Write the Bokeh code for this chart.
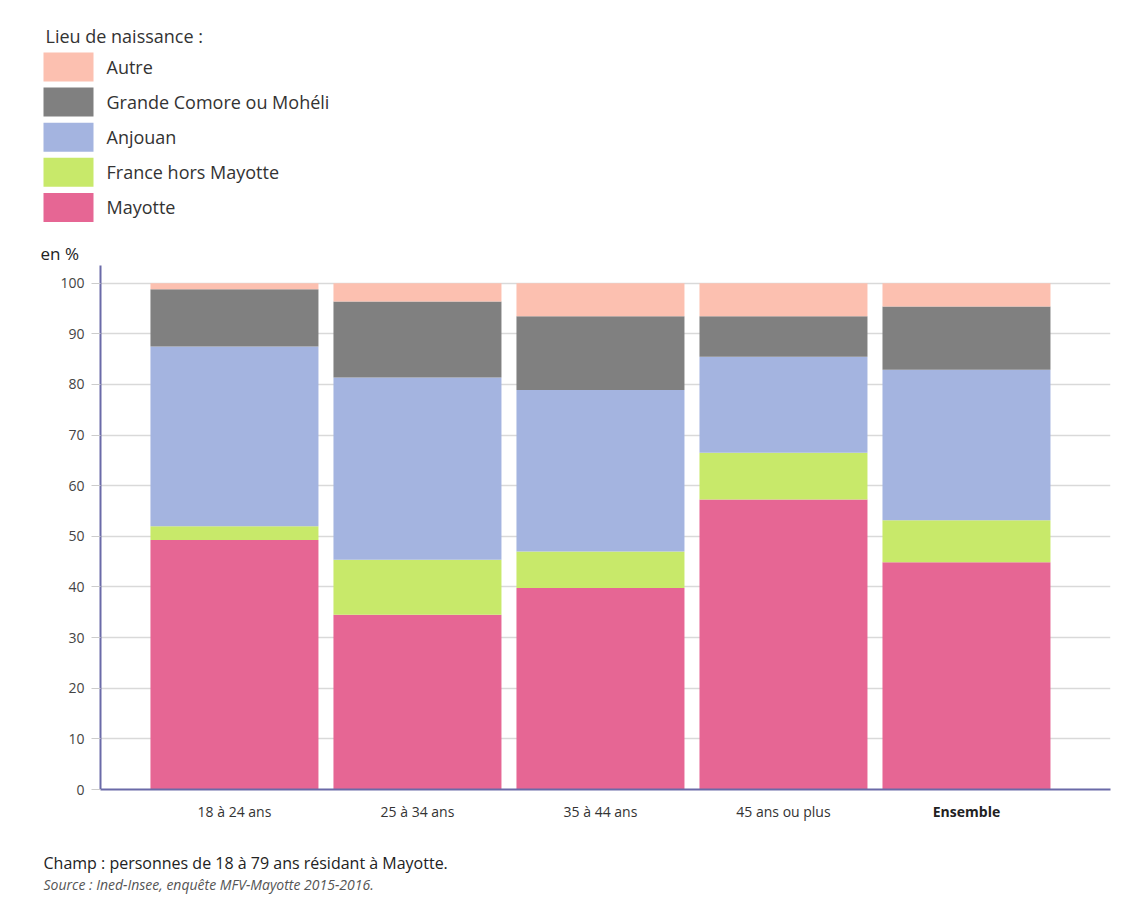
from bokeh.plotting import figure
from bokeh.models import ColumnDataSource, Range1d, FixedTicker, Label
from bokeh.layouts import column
from bokeh.core.properties import value
from bokeh.embed import file_html
from bokeh.resources import INLINE

categories = ["18 à 24 ans", "25 à 34 ans", "35 à 44 ans", "45 ans ou plus", "Ensemble"]
mayotte = [49.3, 34.5, 39.8, 57.3, 44.9]
france_hors_mayotte = [2.7, 10.9, 7.2, 9.2, 8.3]
anjouan = [35.5, 36.0, 31.9, 19.0, 29.7]
grande_comore = [11.3, 15.0, 14.6, 8.0, 12.5]
autre = [1.2, 3.6, 6.5, 6.5, 4.6]
series_names = ["Mayotte", "France hors Mayotte", "Anjouan", "Grande Comore ou Mohéli", "Autre"]
series_keys = ["mayotte", "france", "anjouan", "gc", "autre"]
colors = ["#e66694", "#c8e96a", "#a4b4e0", "#808080", "#fcc0b0"]
y_ticks = [0, 10, 20, 30, 40, 50, 60, 70, 80, 90, 100]
legend_title = "Lieu de naissance :"
y_unit_label = "en %"
note_champ = "Champ : personnes de 18 à 79 ans résidant à Mayotte."
note_source = "Source : Ined-Insee, enquête MFV-Mayotte 2015-2016."

FONT = "Open Sans"
W = 1140
TOP_H = 265
FRAME_H = 524
AXIS_H = 12
MAIN_H = FRAME_H + AXIS_H
BOT_H = 105
BL, BR = 100, 30
X0, X1 = -0.732, 4.787
PPU = (W - BL - BR) / (X1 - X0)
Y_END = 103.5


def bare(height, x_range, y_range):
    f = figure(width=W, height=height, output_backend="svg", toolbar_location=None,
               x_range=x_range, y_range=y_range, x_axis_type=None, y_axis_type=None,
               min_border=0, frame_align=False)
    f.outline_line_color = None
    f.xgrid.grid_line_color = None
    f.ygrid.grid_line_color = None
    return f


# ---------------- legend (top) ----------------
top = bare(TOP_H, Range1d(0, W), Range1d(TOP_H, 0))
leg_names = series_names[::-1]
leg_colors = colors[::-1]
leg_rank = list(range(len(leg_names)))
leg_src = ColumnDataSource(dict(
    name=leg_names, color=leg_colors,
    y=[66.5 + 35.1 * i for i in leg_rank],
))
top.rect(x=68, y="y", width=50, height=29, fill_color="color", line_color=None,
         source=leg_src)
top.text(x=106, y="y", text="name", source=leg_src, text_font=value(FONT),
         text_font_size="18px", text_color="#333333", text_baseline="middle")
top.add_layout(Label(x=45, y=TOP_H - 35, x_units="screen", y_units="screen",
                     text=legend_title, text_font=FONT, text_font_size="18px",
                     text_color="#333333", text_baseline="middle"))
top.add_layout(Label(x=40, y=TOP_H - 253, x_units="screen", y_units="screen",
                     text=y_unit_label, text_font=FONT, text_font_size="17px",
                     text_color="#222222", text_baseline="middle"))

# ---------------- main chart ----------------
xs = list(range(len(categories)))
source = ColumnDataSource(dict(
    x=xs, mayotte=mayotte, france=france_hors_mayotte, anjouan=anjouan,
    gc=grande_comore, autre=autre,
))
p = figure(width=W, height=MAIN_H, output_backend="svg", toolbar_location=None,
           x_range=Range1d(X0, X1), y_range=Range1d(0, Y_END),
           min_border_left=BL, min_border_right=BR, min_border_top=0,
           min_border_bottom=AXIS_H, frame_align=False)
p.outline_line_color = None
p.vbar_stack(series_keys, x="x", width=0.918, color=colors, source=source,
             line_color=None)

p.yaxis.ticker = FixedTicker(ticks=y_ticks)
p.yaxis.axis_line_color = "#6a6aa8"
p.yaxis.axis_line_width = 2
p.yaxis.major_tick_line_color = "#cccccc"
p.yaxis.major_tick_out = 9
p.yaxis.major_tick_in = 0
p.yaxis.minor_tick_line_color = None
p.yaxis.major_label_text_font = FONT
p.yaxis.major_label_text_font_size = "14px"
p.yaxis.major_label_text_color = "#444444"
p.yaxis.major_label_standoff = 7

p.xaxis.ticker = FixedTicker(ticks=xs)
p.xaxis.major_label_overrides = {i: "" for i in xs}
p.xaxis.major_label_text_font_size = "0px"
p.xaxis.axis_line_color = "#6a6aa8"
p.xaxis.axis_line_width = 2
p.xaxis.major_tick_line_color = None
p.xaxis.minor_tick_line_color = None
p.xaxis.major_tick_out = 0
p.xaxis.major_tick_in = 0
p.xaxis.major_label_standoff = 0

p.xgrid.grid_line_color = None
p.ygrid.ticker = FixedTicker(ticks=y_ticks)
p.ygrid.grid_line_color = "#d9d9d9"
p.ygrid.grid_line_width = 1.5

# ---------------- bottom: category labels and notes ----------------
bot = bare(BOT_H, Range1d(X0 - BL / PPU, X1 + BR / PPU), Range1d(BOT_H, 0))
lab_y = 10
normal = ColumnDataSource(dict(x=xs[:-1], t=categories[:-1]))
bold = ColumnDataSource(dict(x=xs[-1:], t=categories[-1:]))
bot.text(x="x", y=lab_y, text="t", source=normal, text_font=value(FONT),
         text_font_size="14px", text_color="#333333", text_align="center",
         text_baseline="middle")
bot.text(x="x", y=lab_y, text="t", source=bold, text_font=value(FONT),
         text_font_size="14px", text_font_style="bold", text_color="#222222",
         text_align="center", text_baseline="middle")
bot.add_layout(Label(x=43, y=BOT_H - 61, x_units="screen", y_units="screen",
                     text=note_champ, text_font=FONT, text_font_size="16px",
                     text_color="#222222", text_baseline="middle"))
bot.add_layout(Label(x=43, y=BOT_H - 83, x_units="screen", y_units="screen",
                     text=note_source, text_font=FONT, text_font_size="14px",
                     text_font_style="italic", text_color="#555555",
                     text_baseline="middle"))

layout = column(top, p, bot, spacing=0)
open("out.html", "w").write(file_html(layout, INLINE))
